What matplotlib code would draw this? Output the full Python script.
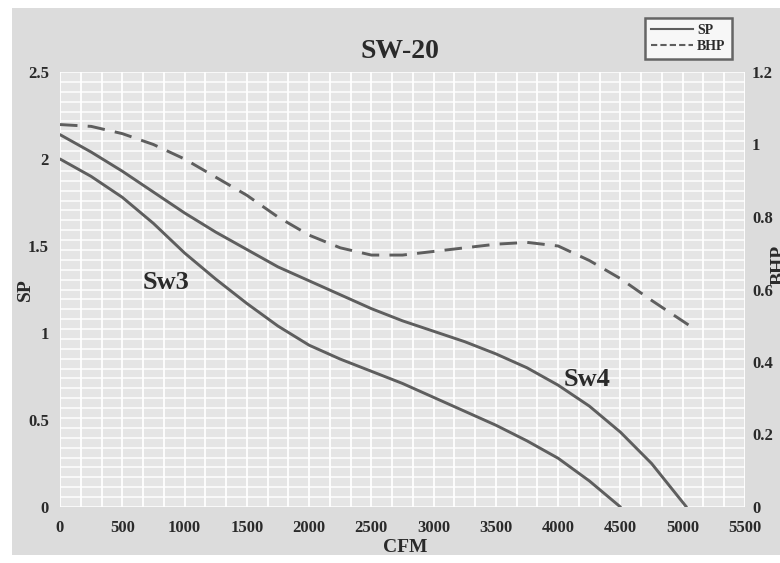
import numpy as np
import matplotlib
matplotlib.use("Agg")
import matplotlib.pyplot as plt
from matplotlib.patches import Rectangle
from matplotlib.lines import Line2D

# ---- data ----
sw4_cfm = [0, 250, 500, 750, 1000, 1250, 1500, 1750, 2000, 2250, 2500, 2750,
           3000, 3250, 3500, 3750, 4000, 4250, 4500, 4750, 5030]
sw4_sp = [2.14, 2.04, 1.93, 1.81, 1.69, 1.58, 1.48, 1.38, 1.30, 1.22, 1.14, 1.07,
          1.01, 0.95, 0.88, 0.80, 0.70, 0.58, 0.43, 0.25, 0.0]

sw3_cfm = [0, 250, 500, 750, 1000, 1250, 1500, 1750, 2000, 2250, 2500, 2750,
           3000, 3250, 3500, 3750, 4000, 4250, 4500]
sw3_sp = [2.00, 1.90, 1.78, 1.63, 1.46, 1.31, 1.17, 1.04, 0.93, 0.85, 0.78, 0.71,
          0.63, 0.55, 0.47, 0.38, 0.28, 0.15, 0.0]

bhp_cfm = [0, 250, 500, 750, 1000, 1250, 1500, 1750, 2000, 2250, 2500, 2750,
           3000, 3250, 3500, 3750, 4000, 4250, 4500, 4750, 5100]
bhp_val = [1.055, 1.05, 1.03, 1.00, 0.96, 0.91, 0.86, 0.80, 0.75, 0.715, 0.695, 0.695,
           0.705, 0.715, 0.725, 0.73, 0.72, 0.68, 0.63, 0.57, 0.49]

x_ticks = [0, 500, 1000, 1500, 2000, 2500, 3000, 3500, 4000, 4500, 5000, 5500]
sp_ticks = [0, 0.5, 1, 1.5, 2, 2.5]
sp_labels = ["0", "0.5", "1", "1.5", "2", "2.5"]
bhp_ticks = [0, 0.2, 0.4, 0.6, 0.8, 1.0, 1.2]
bhp_labels = ["0", "0.2", "0.4", "0.6", "0.8", "1", "1.2"]

title = "SW-20"
curve_labels = ["Sw3", "Sw4"]

# ---- style ----
serif = ["Liberation Serif", "DejaVu Serif"]
line_col = "#5e5e5e"
text_col = "#2a2a2a"

fig = plt.figure(figsize=(7.8, 5.63), dpi=100)
fig.patch.set_facecolor("white")
# outer gray chart area
fig.patches.append(Rectangle((12 / 780, 8 / 563), 1, 1 - 16 / 563,
                             transform=fig.transFigure, facecolor="#dcdcdc",
                             edgecolor="none", zorder=-5))

ax = fig.add_axes([60 / 780, 56 / 563, 685 / 780, 435 / 563])
ax.set_facecolor("#e5e5e5")

ax.set_xlim(0, 5500)
ax.set_ylim(0, 2.5)

# dense white grid
for gx in np.arange(0, 5500 + 1, 500 / 3):
    ax.axvline(gx, color="white", lw=1.3, zorder=1)
for gy in np.arange(0, 2.5 + 1e-9, 2.5 / 44):
    ax.axhline(gy, color="white", lw=1.1, zorder=1)

ax.plot(sw4_cfm, sw4_sp, color=line_col, lw=2.1, zorder=3, solid_capstyle="round")
ax.plot(sw3_cfm, sw3_sp, color=line_col, lw=2.1, zorder=3, solid_capstyle="round")

ax2 = ax.twinx()
ax2.set_ylim(0, 1.2)
ax2.plot(bhp_cfm, bhp_val, color=line_col, lw=2.1, ls=(0, (6, 3.5)), zorder=3)

for a in (ax, ax2):
    for s in a.spines.values():
        s.set_visible(False)

ax.set_xticks(x_ticks)
ax.set_xticklabels([str(v) for v in x_ticks])
ax.set_yticks(sp_ticks)
ax.set_yticklabels(sp_labels)
ax2.set_yticks(bhp_ticks)
ax2.set_yticklabels(bhp_labels)

ax.tick_params(axis="both", length=0, labelsize=12, colors=text_col)
ax.tick_params(axis="x", pad=9)
ax.tick_params(axis="y", pad=8)
ax2.tick_params(axis="y", length=0, labelsize=12, colors=text_col, pad=5)
for lab in ax.get_xticklabels() + ax.get_yticklabels() + ax2.get_yticklabels():
    lab.set_family(serif)
    lab.set_fontweight("bold")

ax.grid(False)
ax2.grid(False)

fig.text(405 / 780, 1 - 548 / 563, "CFM", ha="center", va="center", family=serif,
         fontweight="bold", fontsize=14, color=text_col)
fig.text(25 / 780, 1 - 290 / 563, "SP", ha="center", va="center", rotation=90,
         family=serif, fontweight="bold", fontsize=14, color=text_col)
fig.text(779 / 780, 1 - 285 / 563, "BHP", ha="left", va="center", rotation=90,
         family=serif, fontweight="bold", fontsize=14, color=text_col,
         rotation_mode="anchor")

fig.text(400 / 780, 1 - 52 / 563, title, ha="center", va="center", family=serif,
         fontweight="bold", fontsize=20, color=text_col)

ax.text(850, 1.29, curve_labels[0], ha="center", va="center",
        family=serif, fontweight="bold", fontsize=19, color=text_col, zorder=4)
ax.text(4230, 0.73, curve_labels[1], ha="center", va="center",
        family=serif, fontweight="bold", fontsize=19, color=text_col, zorder=4)

# legend
handles = [Line2D([], [], color=line_col, lw=1.5),
           Line2D([], [], color=line_col, lw=1.5, ls=(0, (3, 1.5)))]
leg = fig.legend(handles, ["SP", "BHP"], loc="upper left",
                 bbox_to_anchor=(645 / 780, 1 - 18 / 563),
                 prop={"family": serif, "weight": "bold", "size": 10},
                 frameon=True, fancybox=False, handlelength=3.0,
                 handletextpad=0.3, borderpad=0.45, labelspacing=0.2,
                 borderaxespad=0)
leg.get_frame().set_edgecolor("#444444")
leg.get_frame().set_linewidth(1.8)
leg.get_frame().set_facecolor("white")
for t in leg.get_texts():
    t.set_color(text_col)

fig.savefig("out.png", dpi=100, facecolor=fig.get_facecolor())
